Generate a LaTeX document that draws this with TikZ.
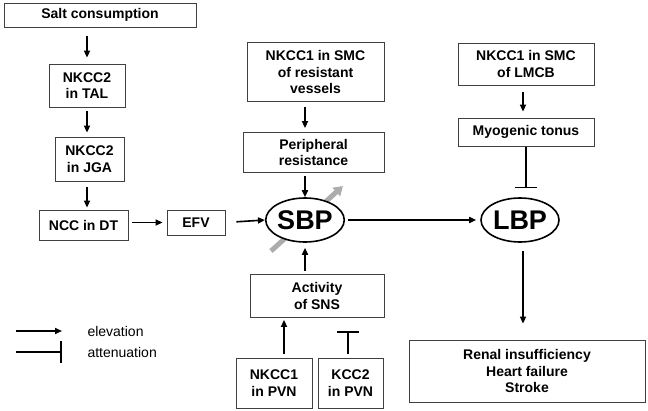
\documentclass[tikz,border=0pt]{standalone}
\usepackage{fontspec}
\setmainfont{Liberation Sans}
\usetikzlibrary{arrows.meta,shapes.geometric}
\tikzset{
	every box/.style={
		draw=black!75,
		line width=0.8pt,
		fill=white,
		align=center,
		inner sep=1pt,
		font=\fontsize{14}{16.5}\selectfont\bfseries
	},
	pressure/.style={
		ellipse,
		draw,
		line width=1.6pt,
		fill=white,
		inner sep=0pt,
		font=\fontsize{27}{30}\selectfont\bfseries
	},
	elevates/.style={
		-{Triangle[length=7pt,width=6pt]},
		line width=1.6pt
	},
	attenuates/.style={
		-{Bar[width=22pt,line width=1.6pt]},
		line width=1.6pt
	},
}

\begin{document}
\begin{tikzpicture}[x=1pt, y=-1pt]

\useasboundingbox (0,0) rectangle (648,410);

% grey trend arrow behind SBP
\coordinate (trend-start) at (271,251);
\coordinate (trend-end) at (343,186);
\draw [gray!65, line width=5pt, -{Triangle[length=9pt,width=11pt]}] (trend-start) -- (trend-end);

% renal chain
\foreach \n/\t/\x/\y/\w/\h in {
	salt/Salt consumption/100/15/192/24,
	tal/NKCC2\\in TAL/87/85.5/76/43,
	jga/NKCC2\\in JGA/89.5/159/69/44,
	ncc/NCC in DT/83.5/225/89/30,
	efv/EFV/196/222.5/58/25}
	\node [every box/.try, minimum width=\w pt, minimum height=\h pt] (\n) at (\x,\y) {\t};

% vessels and nerves
\foreach \n/\t/\x/\y/\w/\h in {
	smcr/NKCC1 in SMC\\of resistant\\vessels/315.5/72/137/59,
	periph/Peripheral\\resistance/313.5/152.5/141/40,
	smcl/NKCC1 in SMC\\of LMCB/526/64/136/42,
	myo/Myogenic tonus/526/132/136/28,
	sns/Activity\\of SNS/317/296/134/43,
	pvn1/NKCC1\\in PVN/274/383/76/50,
	pvn2/KCC2\\in PVN/350.5/383/65/50,
	renal/Renal insufficiency\\Heart failure\\Stroke/527/371/236/62}
	\node [every box/.try, minimum width=\w pt, minimum height=\h pt] (\n) at (\x,\y) {\t};

\node [pressure, minimum width=74pt, minimum height=44pt] (sbp) at (305,220) {SBP};
\node [pressure, minimum width=78pt, minimum height=44pt] (lbp) at (520,220) {LBP};

\draw [elevates, shorten <=9pt, shorten >=6pt] (salt.south -| tal) -- (tal.north -| tal);
\draw [elevates, shorten <=4pt, shorten >=4pt] (tal.south) -- (tal.south |- jga.north);
\draw [elevates, shorten <=6pt, shorten >=2pt] (jga.south -| tal) -- (ncc.north -| tal);
\draw [elevates, shorten <=4pt, shorten >=4pt] (ncc.east |- efv) -- (efv.west);
\draw [elevates, shorten <=11pt] (efv.east) -- (sbp.west);

\draw [elevates, shorten <=5pt, shorten >=4pt] (smcr.south -| sbp) -- (periph.north -| sbp);
\draw [elevates, shorten <=3pt] (periph.south -| sbp) -- (sbp.north);
\draw [elevates, shorten <=3pt, shorten >=4pt] (sbp.east) -- (lbp.west);

\draw [elevates, shorten <=7pt, shorten >=6pt] (smcl.south -| 523,0) -- (myo.north -| 523,0);
\draw [attenuates, shorten <=1pt, shorten >=9pt] (myo.south -| 526,0) -- (lbp.north -| 526,0);
\draw [elevates, shorten <=8pt, shorten >=16pt] (lbp.south -| 523,0) -- (renal.north -| 523,0);

\draw [elevates, shorten <=3pt, shorten >=5pt] (sns.north -| sbp) -- (sbp.south);
\draw [elevates, shorten <=4pt, shorten >=2pt] (pvn1.north -| 284,0) -- (sns.south -| 284,0);
\draw [attenuates, shorten <=4pt, shorten >=13pt] (pvn2.north -| 348,0) -- (sns.south -| 348,0);

% legend
\foreach \k/\s/\t [count=\i] in {up/elevates/elevation, down/attenuates/attenuation} {
	\coordinate (key-\k-a) at (16,310+21*\i);
	\coordinate (key-\k-b) at (62,310+21*\i);
	\draw [\s] (key-\k-a) -- (key-\k-b);
	\node [anchor=west, font=\fontsize{14}{16}\selectfont] (key-\k) at (84,310+21*\i) {\t};
}

\end{tikzpicture}
\end{document}
